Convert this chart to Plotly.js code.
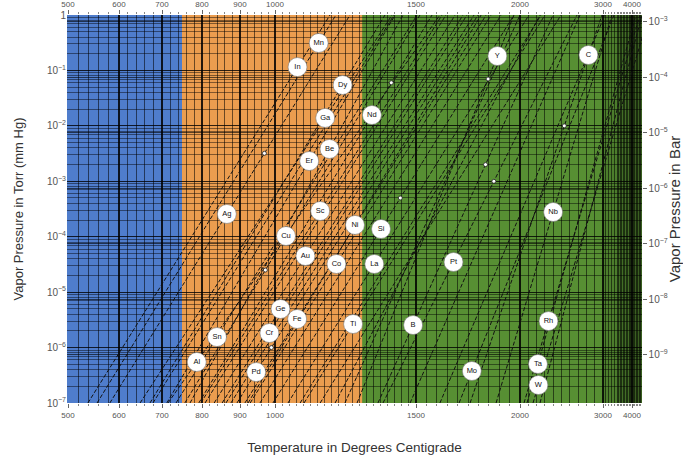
<!DOCTYPE html>
<html><head><meta charset="utf-8">
<script src="https://cdn.plot.ly/plotly-3.0.1.min.js"></script>
<style>html,body{margin:0;padding:0;background:#fff}#chart{width:683px;height:461px}</style>
</head><body><div id="chart"></div>
<script>
// ---- Data ----
// Temperature tick labels (°C)
const tempTicks = [500, 600, 700, 800, 900, 1000, 1500, 2000, 3000, 4000];
// Temperature region boundaries (°C): blue / orange / green
const regionBounds = [500, 750, 1310, 4400];
// Labelled element curves
const elements      = ['In','Mn','Ag','Ga','Dy','Er','Be','Al','Sn','Cu','Sc','Au','Ge','Cr','Pd','Fe','Ni','Nd','Co','Si','La','Ti','B','Pt','Y','C','Nb','Mo','Rh','Ta','W'];
// Temperature (°C) where each curve reaches 1e-7 Torr
const tempAt1e7Torr = [539, 557, 582, 649, 672, 712, 770, 715, 735, 757, 797, 832, 853, 863, 892, 914, 923, 792, 929, 994, 1046, 1103, 1365, 1383, 1291, 1760, 1885, 1707, 2048, 2084, 2157];
// Temperature (°C) where each curve reaches 1 Torr
const tempAt1Torr   = [1195, 1216, 1266, 1415, 1390, 1426, 1454, 1615, 1505, 1519, 1625, 1688, 1726, 1745, 1798, 1837, 1813, 1577, 1861, 1971, 2108, 2301, 2398, 2687, 1971, 2988, 3310, 3379, 4276, 4138, 4586];
// Pressure (Torr) at which each element's label sits on its curve
const labelPressure = [0.115, 0.313, 2.57e-4, 0.0139, 0.0546, 0.00232, 0.00383, 5.5e-7, 1.55e-6, 1.03e-4, 2.91e-4, 4.49e-5, 4.96e-6, 1.83e-6, 3.62e-7, 3.28e-6, 1.63e-4, 0.0157, 3.22e-5, 1.38e-4, 3.22e-5, 2.66e-6, 2.55e-6, 3.5e-5, 0.182, 0.19, 2.79e-4, 3.78e-7, 3.01e-6, 5.06e-7, 2.11e-7];
// Unlabelled curves
const otherAt1e7Torr = [679, 808, 876, 957, 1089, 1160, 1213, 1248, 1479, 1615, 2241];
const otherAt1Torr   = [1422, 1644, 1779, 1909, 2253, 2494, 2241, 2000, 2723, 3069, 4345];
// Small open-circle data markers: element and pressure (Torr)
const dotElements = ['Ag','Cu','Pd','Nd','Y','B','Pt','C','Si'];
const dotPressure = [3.2e-3, 2.5e-5, 1.0e-6, 0.06, 0.07, 2e-3, 1e-3, 0.01, 5e-4];

// ---- Temperature scale of the chart (non-uniform, read from tick spacing) ----
const scaleT = tempTicks;
const scaleS = [1, 52, 95, 135, 173, 208, 349, 453, 536, 565];
function s(T) {
  const n = scaleT.length;
  let i = 0;
  if (T <= scaleT[0]) i = 0;
  else if (T >= scaleT[n - 1]) i = n - 2;
  else { while (T > scaleT[i + 1]) i++; }
  const t0 = scaleT[i], t1 = scaleT[i + 1];
  return scaleS[i] + (T - t0) / (t1 - t0) * (scaleS[i + 1] - scaleS[i]);
}
const xRange = [0, 575];

// Minor grid temperatures
const minorT = [];
for (let t = 500; t < 1000; t += 20) minorT.push(t);
for (let t = 1000; t < 1500; t += 25) minorT.push(t);
for (let t = 1500; t < 2000; t += 50) minorT.push(t);
for (let t = 2000; t < 3500; t += 100) minorT.push(t);
for (let t = 3500; t <= 4400; t += 50) minorT.push(t);
const minorS = minorT.filter(t => tempTicks.indexOf(t) < 0).map(s);

// ---- Curves ----
const lx = [], ly = [];
function addCurve(tb, tt) { lx.push(s(tb), s(tt), null); ly.push(1e-7, 1, null); }
elements.forEach((e, i) => addCurve(tempAt1e7Torr[i], tempAt1Torr[i]));
otherAt1e7Torr.forEach((tb, i) => addCurve(tb, otherAt1Torr[i]));

function posOn(i, p) {
  const f = (Math.log10(p) + 7) / 7;
  return s(tempAt1e7Torr[i]) + f * (s(tempAt1Torr[i]) - s(tempAt1e7Torr[i]));
}
const labX = elements.map((e, i) => posOn(i, labelPressure[i]));
const dotX = dotElements.map((e, k) => posOn(elements.indexOf(e), dotPressure[k]));

const font = 'Liberation Sans, Arial, sans-serif';
const traces = [
  {x: lx, y: ly, mode: 'lines', line: {color: '#111', width: 1, dash: '4px,2px'}, hoverinfo: 'skip', showlegend: false},
  {x: dotX, y: dotPressure, mode: 'markers', marker: {size: 4, color: '#fff', line: {color: '#222', width: 0.8}}, showlegend: false},
  {x: labX, y: labelPressure, mode: 'markers+text', text: elements, textposition: 'middle center',
   textfont: {family: font, size: 7.5, color: '#111'},
   marker: {size: 19, color: '#fff', line: {color: '#777', width: 0.6}}, showlegend: false},
  {x: [s(1000)], y: [1e-4], xaxis: 'x2', yaxis: 'y', mode: 'markers', marker: {opacity: 0}, showlegend: false, hoverinfo: 'skip'},
  {x: [s(1000)], y: [1e-6], xaxis: 'x', yaxis: 'y2', mode: 'markers', marker: {opacity: 0}, showlegend: false, hoverinfo: 'skip'}
];

const regionColors = ['#4f7dcc', '#eb9d4f', '#578f33'];
const shapes = [];
for (let i = 0; i < 3; i++) {
  shapes.push({type: 'rect', layer: 'below', xref: 'x', yref: 'paper',
    x0: i === 0 ? xRange[0] : s(regionBounds[i]), x1: i === 2 ? xRange[1] : s(regionBounds[i + 1]),
    y0: 0, y1: 1, fillcolor: regionColors[i], line: {width: 0}});
}
[3000, 3500, 3900].forEach(t => shapes.push({type: 'rect', layer: 'below', xref: 'x', yref: 'paper',
  x0: s(t), x1: xRange[1], y0: 0, y1: 1, fillcolor: 'rgba(0,0,0,0.12)', line: {width: 0}}));

const tickFont = {family: font, size: 8, color: '#555'};
const xCommon = {
  range: xRange, tickmode: 'array', tickvals: tempTicks.map(s), ticktext: tempTicks.map(String),
  tickfont: tickFont, ticks: 'outside', ticklen: 4, tickcolor: '#666', zeroline: false,
  minor: {tickmode: 'array', tickvals: minorS, ticks: 'outside', ticklen: 2, tickcolor: '#888',
          showgrid: true, gridcolor: 'rgba(0,0,0,0.55)', gridwidth: 1},
  showgrid: true, gridcolor: 'rgba(0,0,0,0.85)', gridwidth: 1.2, showline: false
};
const layout = {
  width: 683, height: 461,
  margin: {l: 67, r: 41, t: 15, b: 58},
  paper_bgcolor: '#fff', plot_bgcolor: '#578f33',
  showlegend: false,
  xaxis: Object.assign({}, xCommon, {
    title: {text: 'Temperature in Degrees Centigrade', font: {family: font, size: 13.5, color: '#333'}, standoff: 23}
  }),
  xaxis2: Object.assign({}, xCommon, {overlaying: 'x', side: 'top', anchor: 'y', showgrid: false,
    minor: {tickmode: 'array', tickvals: minorS, ticks: 'outside', ticklen: 2, tickcolor: '#888', showgrid: false}}),
  yaxis: {
    type: 'log', range: [-7, 0], tickmode: 'linear', tick0: 0, dtick: 1, exponentformat: 'power',
    tickfont: tickFont, ticks: '', showgrid: true, gridcolor: 'rgba(0,0,0,0.8)', gridwidth: 1.1, zeroline: false,
    minor: {dtick: 'D1', showgrid: true, gridcolor: 'rgba(0,0,0,0.5)', gridwidth: 0.9},
    title: {text: 'Vapor Pressure in Torr (mm Hg)', font: {family: font, size: 13, color: '#333'}, standoff: 20}
  },
  yaxis2: {
    type: 'log', range: [Math.log10(1e-7 / 750), Math.log10(1 / 750)], overlaying: 'y', side: 'right', anchor: 'x',
    tickmode: 'linear', tick0: 0, dtick: 1, exponentformat: 'power',
    tickfont: tickFont, ticks: 'outside', ticklen: 4, tickcolor: '#666',
    showgrid: true, gridcolor: 'rgba(0,0,0,0.6)', gridwidth: 1, zeroline: false,
    title: {text: 'Vapor Pressure in Bar', font: {family: font, size: 15, color: '#333'}, standoff: 8}
  },
  shapes: shapes
};
Plotly.newPlot('chart', traces, layout, {displayModeBar: false, staticPlot: true});
</script>
</body></html>
